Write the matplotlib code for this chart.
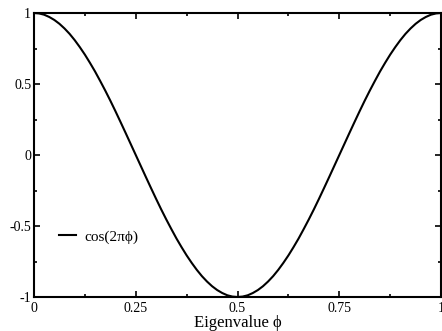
import matplotlib
matplotlib.use("Agg")
import matplotlib.pyplot as plt
from matplotlib.ticker import MultipleLocator

# valeurs
phi = [0.0, 0.0125, 0.025, 0.0375, 0.05, 0.0625, 0.075, 0.0875, 0.1, 0.1125,
       0.125, 0.1375, 0.15, 0.1625, 0.175, 0.1875, 0.2, 0.2125, 0.225, 0.2375,
       0.25, 0.2625, 0.275, 0.2875, 0.3, 0.3125, 0.325, 0.3375, 0.35, 0.3625,
       0.375, 0.3875, 0.4, 0.4125, 0.425, 0.4375, 0.45, 0.4625, 0.475, 0.4875,
       0.5, 0.5125, 0.525, 0.5375, 0.55, 0.5625, 0.575, 0.5875, 0.6, 0.6125,
       0.625, 0.6375, 0.65, 0.6625, 0.675, 0.6875, 0.7, 0.7125, 0.725, 0.7375,
       0.75, 0.7625, 0.775, 0.7875, 0.8, 0.8125, 0.825, 0.8375, 0.85, 0.8625,
       0.875, 0.8875, 0.9, 0.9125, 0.925, 0.9375, 0.95, 0.9625, 0.975, 0.9875,
       1.0]
valeurs = [1.0, 0.997, 0.988, 0.972, 0.951, 0.924, 0.891, 0.853, 0.809, 0.760,
           0.707, 0.649, 0.588, 0.522, 0.454, 0.383, 0.309, 0.233, 0.156, 0.078,
           0.0, -0.078, -0.156, -0.233, -0.309, -0.383, -0.454, -0.522, -0.588, -0.649,
           -0.707, -0.760, -0.809, -0.853, -0.891, -0.924, -0.951, -0.972, -0.988, -0.997,
           -1.0, -0.997, -0.988, -0.972, -0.951, -0.924, -0.891, -0.853, -0.809, -0.760,
           -0.707, -0.649, -0.588, -0.522, -0.454, -0.383, -0.309, -0.233, -0.156, -0.078,
           0.0, 0.078, 0.156, 0.233, 0.309, 0.383, 0.454, 0.522, 0.588, 0.649,
           0.707, 0.760, 0.809, 0.853, 0.891, 0.924, 0.951, 0.972, 0.988, 0.997,
           1.0]
xticks = [0, 0.25, 0.5, 0.75, 1]
xlabels = ["0", "0.25", "0.5", "0.75", "1"]
yticks = [-1, -0.5, 0, 0.5, 1]
ylabels = ["-1", "-0.5", "0", "0.5", "1"]

plt.rcParams['font.family'] = ['Liberation Serif', 'DejaVu Serif']

fig = plt.figure(figsize=(4.42, 3.31), dpi=100)
ax = fig.add_axes([0.0769, 0.1027, 0.921, 0.858])

ax.plot(phi, valeurs, color='black', lw=1.5, label='cos(2πϕ)')

ax.set_xlim(0, 1)
ax.set_ylim(-1, 1)
ax.set_xticks(xticks)
ax.set_xticklabels(xlabels)
ax.set_yticks(yticks)
ax.set_yticklabels(ylabels)
ax.xaxis.set_minor_locator(MultipleLocator(0.125))
ax.yaxis.set_minor_locator(MultipleLocator(0.25))
ax.tick_params(which='both', direction='in', top=True, right=True, width=1.2, labelsize=10, pad=2)
ax.tick_params(axis='x', which='major', pad=3.5)
ax.tick_params(which='major', length=4.5)
ax.tick_params(which='minor', length=2.5)
for s in ax.spines.values():
    s.set_linewidth(1.5)

ax.set_xlabel('Eigenvalue ϕ', fontsize=12, labelpad=0)

ax.legend(loc='center left', bbox_to_anchor=(0.062, 0.211), frameon=False,
          fontsize=11, handlelength=1.1, handletextpad=0.55, borderpad=0, borderaxespad=0)

fig.savefig('out.png', dpi=100)
